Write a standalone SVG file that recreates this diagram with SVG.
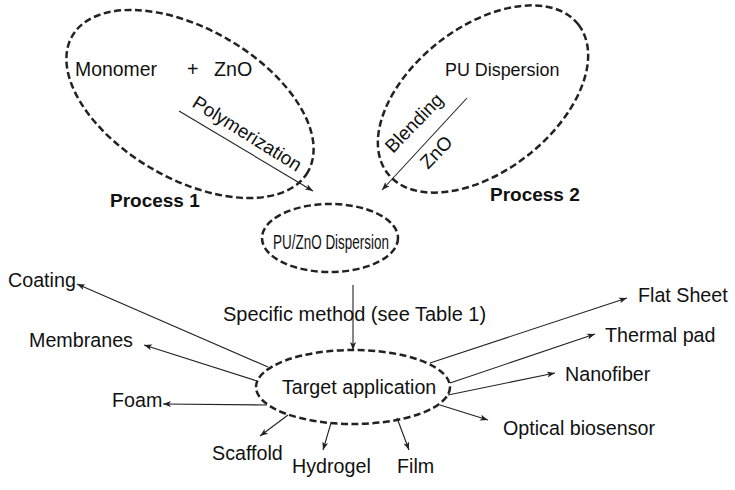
<svg xmlns="http://www.w3.org/2000/svg" width="735" height="490" viewBox="0 0 735 490">
<defs>
<style>
text{font-family:"Liberation Sans",Arial,sans-serif;font-size:19.7px;fill:#111}
.b{font-weight:bold;font-size:19px}
.dash{fill:none;stroke:#222;stroke-width:2.5;stroke-dasharray:7 3.5}
.ar{fill:none;stroke:#222;stroke-width:1.1;marker-end:url(#ah)}
</style>
<marker id="ah" markerUnits="userSpaceOnUse" markerWidth="9" markerHeight="7" refX="8" refY="3.5" orient="auto">
<path d="M0,0.5 L8,3.5 L0,6.5 L2,3.5 z" fill="#222"/>
</marker>
</defs>
<rect width="735" height="490" fill="#fff"/>
<g id="process1">
<ellipse class="dash" cx="190" cy="104" rx="136" ry="75" transform="rotate(30 190 104)"/>
<text x="75" y="76" style="font-size:19.4px">Monomer</text>
<text x="187" y="76">+</text>
<text x="214" y="76">ZnO</text>
<text class="b" x="110" y="207">Process 1</text>
</g>
<g id="process2">
<ellipse class="dash" cx="483" cy="99" rx="121" ry="72" transform="rotate(-38 483 99)"/>
<text x="445" y="76" style="font-size:17.9px">PU Dispersion</text>
<text class="b" x="490" y="201">Process 2</text>
</g>
<g id="puzno">
<ellipse class="dash" cx="330" cy="238" rx="68" ry="34"/>
<text x="273" y="249" textLength="116" lengthAdjust="spacingAndGlyphs">PU/ZnO Dispersion</text>
</g>
<g id="target">
<ellipse class="dash" cx="353" cy="387" rx="97" ry="37"/>
<text x="282" y="394">Target application</text>
</g>
<g id="labels">
<text x="8" y="287">Coating</text>
<text x="29" y="347">Membranes</text>
<text x="112" y="407">Foam</text>
<text x="212" y="460">Scaffold</text>
<text x="292" y="473">Hydrogel</text>
<text x="397" y="473">Film</text>
<text x="503" y="435">Optical biosensor</text>
<text x="565" y="381">Nanofiber</text>
<text x="605" y="342">Thermal pad</text>
<text x="638" y="302">Flat Sheet</text>
</g>
<g id="connectors">
<line class="ar" x1="179" y1="111" x2="313" y2="191"/>
<text x="191" y="106" transform="rotate(32 191 106)" style="font-size:19px">Polymerization</text>
<line class="ar" x1="467" y1="98" x2="382" y2="190"/>
<text x="393" y="154" transform="rotate(-46 393 154)" style="font-size:19px">Blending</text>
<text x="428" y="170" transform="rotate(-46 428 170)" style="font-size:19px">ZnO</text>
<line class="ar" x1="353" y1="285" x2="353" y2="350"/>
<text x="223" y="321" style="font-size:20px">Specific method (see Table 1)</text>
<line class="ar" x1="268" y1="367" x2="77" y2="284"/>
<line class="ar" x1="257" y1="381" x2="144" y2="345"/>
<line class="ar" x1="267" y1="405" x2="163" y2="404"/>
<line class="ar" x1="288" y1="415" x2="260" y2="436"/>
<line class="ar" x1="331" y1="423" x2="323" y2="450"/>
<line class="ar" x1="397" y1="418" x2="409" y2="450"/>
<line class="ar" x1="440" y1="405" x2="488" y2="420"/>
<line class="ar" x1="448" y1="395" x2="555" y2="373"/>
<line class="ar" x1="450" y1="383" x2="595" y2="334"/>
<line class="ar" x1="430" y1="363" x2="627" y2="298"/>
</g>
</svg>
